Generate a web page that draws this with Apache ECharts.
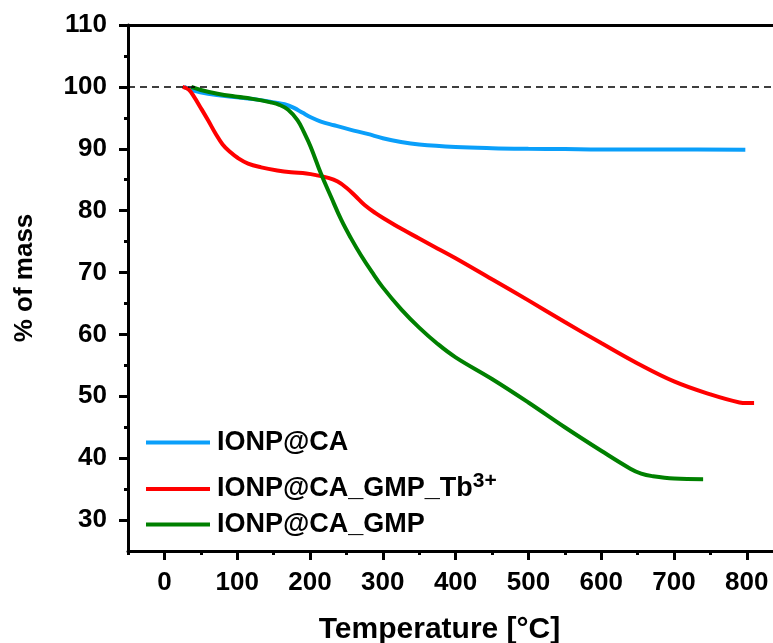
<!DOCTYPE html>
<html>
<head>
<meta charset="utf-8">
<script src="https://cdn.jsdelivr.net/npm/echarts@6/dist/echarts.min.js"></script>
<style>
    html, body { margin: 0; padding: 0; background: #fff; }
    #chart { width: 773px; height: 643px; }
</style>
</head>
<body>
<div id="chart"></div>
<script>
    // TGA curves: [temperature, % of mass]
    const ionpCa = [
        [27, 100], [40, 99.4], [60, 98.9], [96, 98.35], [130, 97.9], [151, 97.5],
        [165, 97.2], [178, 96.6], [190, 95.8], [201, 95.1], [215, 94.4], [233, 93.8],
        [255, 93.1], [279, 92.4], [300, 91.7], [325, 91.1], [350, 90.7], [400, 90.3],
        [450, 90.1], [500, 90.0], [550, 89.95], [600, 89.9], [700, 89.9], [798, 89.85]
    ];
    const ionpCaGmpTb = [
        [25, 100], [33, 99.6], [41, 98.35], [50, 96.6], [60, 94.6], [70, 92.5],
        [80, 90.7], [90, 89.5], [101, 88.5], [115, 87.6], [133, 87.0], [155, 86.5],
        [174, 86.2], [195, 86.0], [210, 85.7], [225, 85.3], [238, 84.7], [250, 83.7],
        [262, 82.4], [275, 80.9], [290, 79.6], [305, 78.5], [325, 77.1], [350, 75.5],
        [375, 73.9], [400, 72.3], [450, 68.9], [500, 65.5], [550, 62.0], [600, 58.6],
        [650, 55.3], [700, 52.4], [750, 50.3], [790, 49.0], [800, 48.9], [810, 48.9]
    ];
    const ionpCaGmp = [
        [37, 100], [50, 99.5], [73, 98.9], [100, 98.4], [119, 98.1], [146, 97.5],
        [158, 97.1], [170, 96.3], [183, 94.6], [192, 92.6], [201, 90.3], [215, 86.0],
        [229, 82.2], [243, 78.5], [256, 75.6], [270, 72.8], [285, 70.1], [300, 67.6],
        [325, 64.1], [350, 61.1], [375, 58.5], [400, 56.3], [450, 52.8], [500, 49.0],
        [550, 45.0], [600, 41.2], [640, 38.3], [655, 37.5], [670, 37.1], [700, 36.7],
        [740, 36.6]
    ];

    const xMajor = [0, 100, 200, 300, 400, 500, 600, 700, 800];
    const xMinor = [-50, 50, 150, 250, 350, 450, 550, 650, 750];
    const yMajor = [30, 40, 50, 60, 70, 80, 90, 100, 110];
    const yMinor = [35, 45, 55, 65, 75, 85, 95, 105];

    const font = 'Arial, "Liberation Sans", sans-serif';
    const axisLine = { show: true, onZero: false, lineStyle: { color: '#000', width: 3 } };

    const chart = echarts.init(document.getElementById('chart'));

    function legendAt(name, top) {
        return {
            data: [name],
            left: 146,
            top: top,
            padding: 0,
            icon: 'rect',
            itemWidth: 64,
            itemHeight: 4,
            itemGap: 0,
            selectedMode: false,
            formatter: function (n) {
                if (n.indexOf('Tb') > 0) {
                    return '{m|IONP@CA_GMP_Tb}{s|3+}';
                }
                return '{m|' + n + '}';
            },
            textStyle: {
                padding: [0, 0, 0, 2],
                rich: {
                    m: { fontSize: 27, fontWeight: 'bold', fontFamily: font, color: '#000', lineHeight: 36 },
                    s: { fontSize: 21, fontWeight: 'bold', fontFamily: font, color: '#000', lineHeight: 14, verticalAlign: 'top' }
                }
            }
        };
    }

    chart.setOption({
        animation: false,
        grid: { left: 128, top: 25, right: 0, bottom: 92, outerBoundsMode: 'none' },
        legend: [
            legendAt('IONP@CA', 429),
            legendAt('IONP@CA_GMP_Tb3+', 471),
            legendAt('IONP@CA_GMP', 511)
        ],
        xAxis: [
            {
                type: 'value', min: -50, max: 836, position: 'bottom',
                name: 'Temperature [°C]', nameLocation: 'middle', nameGap: 64,
                nameTextStyle: { fontSize: 30, fontWeight: 'bold', fontFamily: font, color: '#000', padding: [0, 22, 0, 0] },
                axisLine: axisLine,
                axisTick: { show: true, length: 9, lineStyle: { color: '#000', width: 3 }, customValues: xMajor },
                axisLabel: { fontSize: 26, fontWeight: 'bold', fontFamily: font, color: '#000', margin: 19, customValues: xMajor },
                splitLine: { show: false }
            },
            {
                type: 'value', min: -50, max: 836, position: 'bottom',
                axisLine: { show: false, onZero: false },
                axisTick: { show: true, length: 4, lineStyle: { color: '#000', width: 3 }, customValues: xMinor },
                axisLabel: { show: false },
                splitLine: { show: false }
            },
            {
                type: 'value', min: -50, max: 836, position: 'top',
                axisLine: axisLine,
                axisTick: { show: false },
                axisLabel: { show: false },
                splitLine: { show: false }
            }
        ],
        yAxis: [
            {
                type: 'value', min: 25, max: 110, position: 'left',
                name: '% of mass', nameLocation: 'middle', nameGap: 90,
                nameTextStyle: { fontSize: 26, fontWeight: 'bold', fontFamily: font, color: '#000', padding: [0, 0, 0, 20] },
                axisLine: axisLine,
                axisTick: { show: true, length: 9, lineStyle: { color: '#000', width: 3 }, customValues: yMajor },
                axisLabel: { fontSize: 26, fontWeight: 'bold', fontFamily: font, color: '#000', margin: 21, customValues: yMajor },
                splitLine: { show: false }
            },
            {
                type: 'value', min: 25, max: 110, position: 'left',
                axisLine: { show: false, onZero: false },
                axisTick: { show: true, length: 4, lineStyle: { color: '#000', width: 3 }, customValues: yMinor },
                axisLabel: { show: false },
                splitLine: { show: false }
            }
        ],
        series: [
            {
                name: 'IONP@CA', type: 'line', data: ionpCa, smooth: 0.4,
                showSymbol: false, color: '#0a9ffa',
                lineStyle: { width: 4 },
                markLine: {
                    silent: true, symbol: ['none', 'none'],
                    label: { show: false },
                    lineStyle: { color: '#000', width: 1.5, type: [7, 5] },
                    data: [{ yAxis: 100 }]
                }
            },
            {
                name: 'IONP@CA_GMP_Tb3+', type: 'line', data: ionpCaGmpTb, smooth: 0.4,
                showSymbol: false, color: '#ff0000',
                lineStyle: { width: 4 }
            },
            {
                name: 'IONP@CA_GMP', type: 'line', data: ionpCaGmp, smooth: 0.4,
                showSymbol: false, color: '#008000',
                lineStyle: { width: 4 }
            }
        ]
    });
</script>
</body>
</html>
